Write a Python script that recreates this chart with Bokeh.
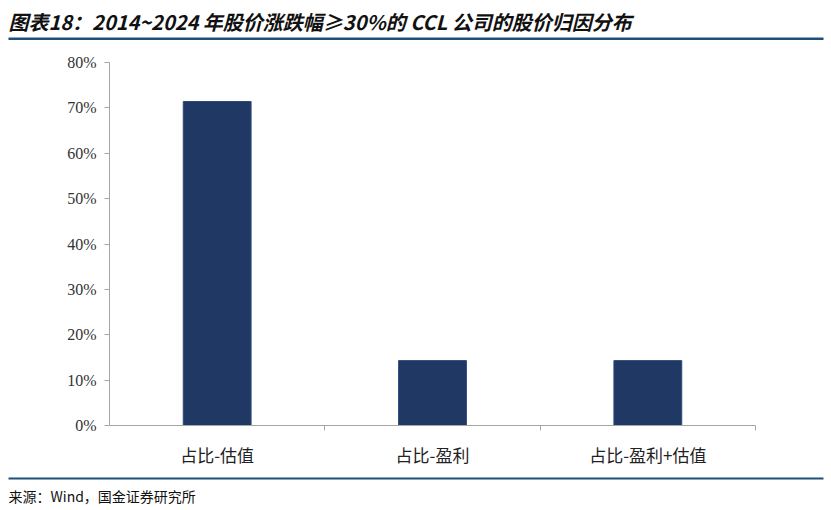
from bokeh.plotting import figure
from bokeh.layouts import column
from bokeh.models import (ColumnDataSource, FixedTicker, NumeralTickFormatter,
                          Range1d, Title)
from bokeh.embed import file_html
from bokeh.resources import INLINE

categories = ["占比-估值", "占比-盈利", "占比-盈利+估值"]
shares = [0.714, 0.143, 0.143]
y_ticks = [0, 0.1, 0.2, 0.3, 0.4, 0.5, 0.6, 0.7, 0.8]
title_text = "图表18：2014~2024 年股价涨跌幅≥30%的 CCL 公司的股价归因分布"
source_text = "来源：Wind，国金证券研究所"

W = 831
RULE = "#1F4E79"


def rule_fig(height, top, bottom):
    f = figure(width=W, height=height, output_backend="svg", toolbar_location=None,
               x_range=Range1d(0, 1), y_range=Range1d(0, 1),
               min_border_left=8, min_border_right=8, min_border_top=top,
               min_border_bottom=bottom, title=None, frame_align=False)
    f.axis.visible = False
    f.grid.visible = False
    f.outline_line_color = None
    f.background_fill_color = RULE
    f.border_fill_color = "white"
    return f


# header: title + blue rule (frame of 3px, taller than before)
head = rule_fig(40, 37, 0)
head.add_layout(Title(text=title_text, align="left", text_font="Noto Sans CJK SC",
                      text_font_size="20px", text_font_style="bold italic",
                      text_color="#111111", standoff=4, offset=0), "above")
head.min_height = 40

# main chart
p = figure(width=W, height=437, output_backend="svg", toolbar_location=None,
           x_range=Range1d(0, len(categories)), y_range=Range1d(0, 0.8),
           min_border_left=109, min_border_right=76, min_border_top=22,
           min_border_bottom=52, frame_align=False)
p.outline_line_color = None
p.xgrid.visible = False
p.ygrid.visible = False

xs = [i + 0.5 for i in range(len(categories))]
src = ColumnDataSource(dict(x=xs, top=shares))
p.vbar(x="x", top="top", width=0.315, source=src, fill_color="#1F3864",
       line_color="#2E4A7A", line_width=1)

p.yaxis.ticker = FixedTicker(ticks=y_ticks)
p.yaxis.formatter = NumeralTickFormatter(format="0%")
p.yaxis.axis_line_color = "#A6A6A6"
p.yaxis.major_tick_line_color = "#A6A6A6"
p.yaxis.major_tick_out = 5
p.yaxis.major_tick_in = 0
p.yaxis.minor_tick_line_color = None
p.yaxis.major_label_text_font = "Liberation Serif"
p.yaxis.major_label_text_font_size = "16px"
p.yaxis.major_label_text_color = "#333333"
p.yaxis.major_label_standoff = 8

p.xaxis.ticker = FixedTicker(ticks=xs, minor_ticks=[1, 2, 3])
p.xaxis.major_label_overrides = {x: c for x, c in zip(xs, categories)}
p.xaxis.axis_line_color = "#A6A6A6"
p.xaxis.major_tick_line_color = None
p.xaxis.minor_tick_line_color = "#A6A6A6"
p.xaxis.minor_tick_out = 5
p.xaxis.minor_tick_in = 0
p.xaxis.major_label_text_font = "Noto Sans CJK SC"
p.xaxis.major_label_text_font_size = "17px"
p.xaxis.major_label_text_color = "#222222"
p.xaxis.major_label_standoff = 10

# footer: blue rule + source
foot = rule_fig(33, 0, 31)
foot.add_layout(Title(text=source_text, align="left", text_font="Noto Sans CJK SC",
                      text_font_size="14px", text_font_style="normal",
                      text_color="#111111", standoff=8, offset=0), "below")

layout = column(head, p, foot, spacing=0)
open("out.html", "w").write(file_html(layout, INLINE))
